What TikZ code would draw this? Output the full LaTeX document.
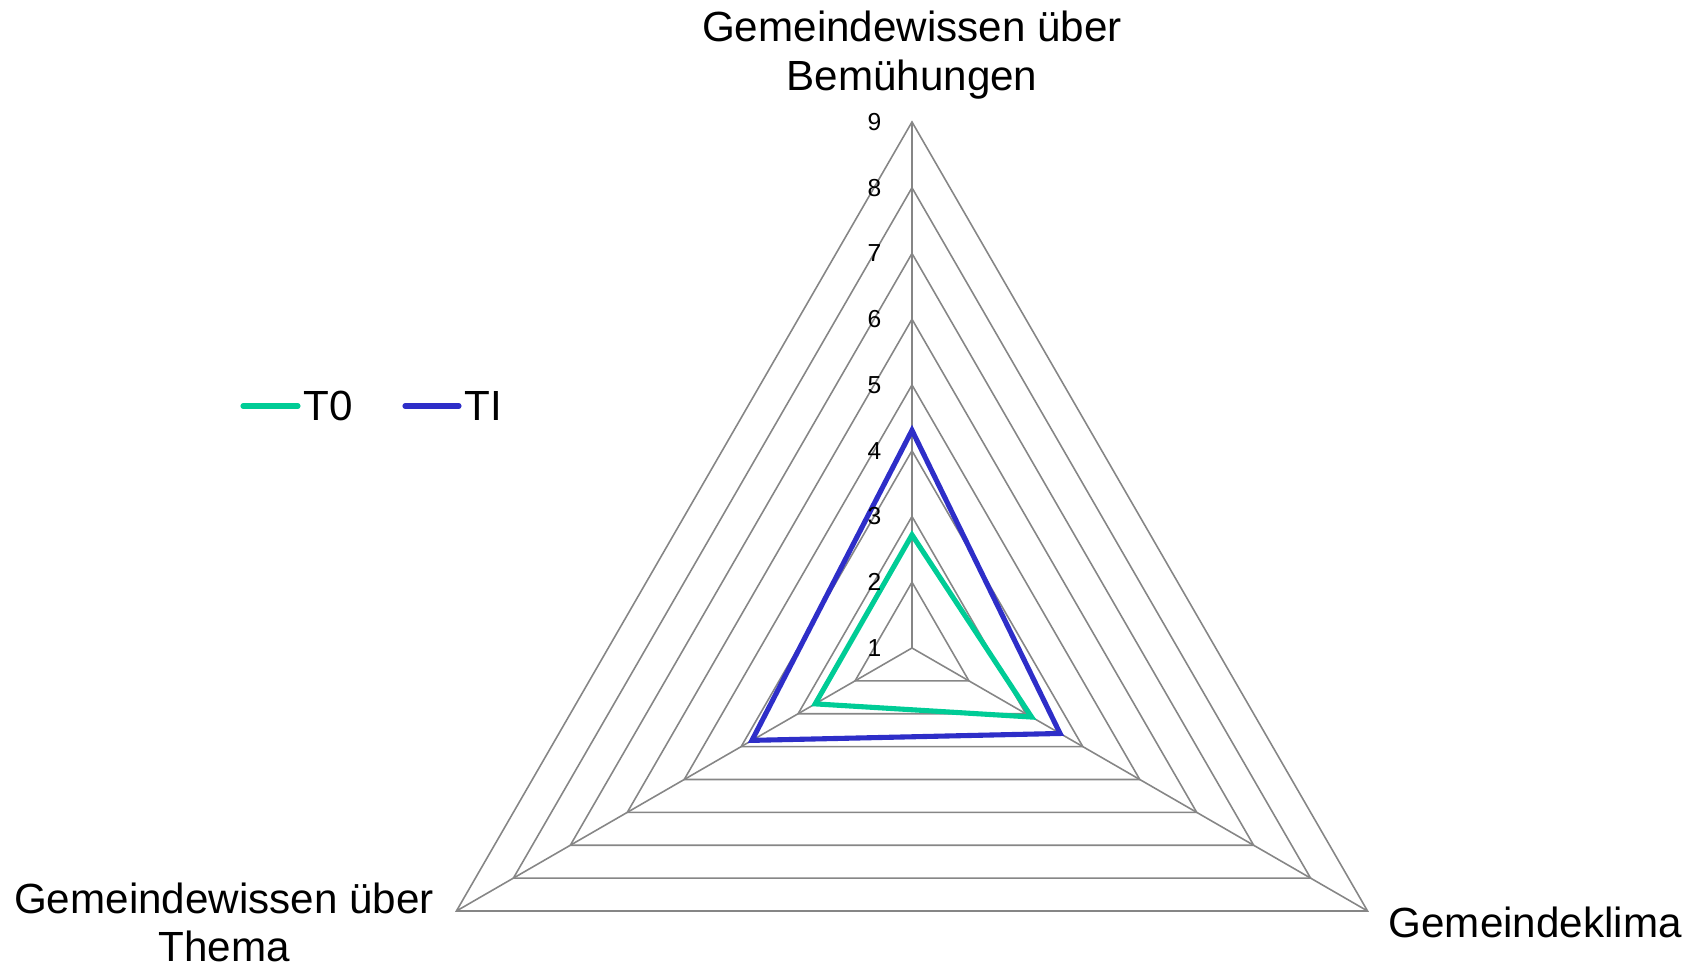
\documentclass[tikz,border=0pt]{standalone}
\usepackage{fontspec}
\setmainfont{Liberation Sans}
\definecolor{gridgray}{RGB}{134,134,134}
\definecolor{tzero}{RGB}{0,204,150}
\definecolor{tone}{RGB}{46,46,200}
\begin{document}
\begin{tikzpicture}[
  ring/.style={draw=gridgray, line width=0.45pt},
  series/.style={line width=1.45pt, line join=miter},
  tick/.style={anchor=east, inner sep=0pt, font=\fontsize{7}{8}\selectfont},
  axislabel/.style={inner sep=0pt, align=center, font=\fontsize{12}{13.9}\selectfont},
  keyline/.style={line width=1.45pt, line cap=round}]
\useasboundingbox (-9.12,-3.20) rectangle (7.85,6.48);
% grid, one unit = one step of the scale (1 at the centre)
\begin{scope}[scale=0.6575]
\coordinate (O) at (0,0);
\coordinate (A) at (90:8);
\coordinate (B) at (210:8);
\coordinate (C) at (330:8);
\draw[ring] (90:1) -- (210:1) -- (330:1) -- cycle;
\draw[ring] (90:2) -- (210:2) -- (330:2) -- cycle;
\draw[ring] (90:3) -- (210:3) -- (330:3) -- cycle;
\draw[ring] (90:4) -- (210:4) -- (330:4) -- cycle;
\draw[ring] (90:5) -- (210:5) -- (330:5) -- cycle;
\draw[ring] (90:6) -- (210:6) -- (330:6) -- cycle;
\draw[ring] (90:7) -- (210:7) -- (330:7) -- cycle;
\draw[ring] (A) -- (B) -- (C) -- cycle;
\draw[ring] (O) -- (A);
\draw[ring] (O) -- (B);
\draw[ring] (O) -- (C);
% data
\coordinate (T0top) at (90:1.72);
\coordinate (T0left) at (210:1.70);
\coordinate (T0right) at (330:2.10);
\coordinate (TItop) at (90:3.31);
\coordinate (TIleft) at (210:2.81);
\coordinate (TIright) at (330:2.60);
\draw[series, tzero] (T0top) -- (T0left) -- (T0right) -- cycle;
\draw[series, tone] (TItop) -- (TIleft) -- (TIright) -- cycle;
\end{scope}
% scale
\node[tick] (v1) at (-0.30,0) {1};
\node[tick] (v2) at (-0.30,0.6575) {2};
\node[tick] (v3) at (-0.30,1.315) {3};
\node[tick] (v4) at (-0.30,1.9725) {4};
\node[tick] (v5) at (-0.30,2.63) {5};
\node[tick] (v6) at (-0.30,3.2875) {6};
\node[tick] (v7) at (-0.30,3.945) {7};
\node[tick] (v8) at (-0.30,4.6025) {8};
\node[tick] (v9) at (-0.30,5.26) {9};
% axis labels
\node[axislabel] (labA) at (0,5.93) {Gemeindewissen über\\Bemühungen};
\node[axislabel] (labB) at (-6.88,-2.745) {Gemeindewissen über\\Thema};
\node[axislabel, anchor=west] (labC) at (4.76,-2.74) {Gemeindeklima};
% legend
\node[anchor=west, inner sep=0.05cm, font=\fontsize{12}{14}\selectfont] (keyT0) at (-6.14,2.42) {T0};
\node[anchor=west, inner sep=0.05cm, font=\fontsize{12}{14}\selectfont] (keyTI) at (-4.53,2.42) {TI};
\coordinate (k0) at (-6.69,2.42);
\coordinate (k1) at (-5.07,2.42);
\draw[keyline, tzero] (k0) -- (keyT0.west);
\draw[keyline, tone] (k1) -- (keyTI.west);
\end{tikzpicture}
\end{document}
